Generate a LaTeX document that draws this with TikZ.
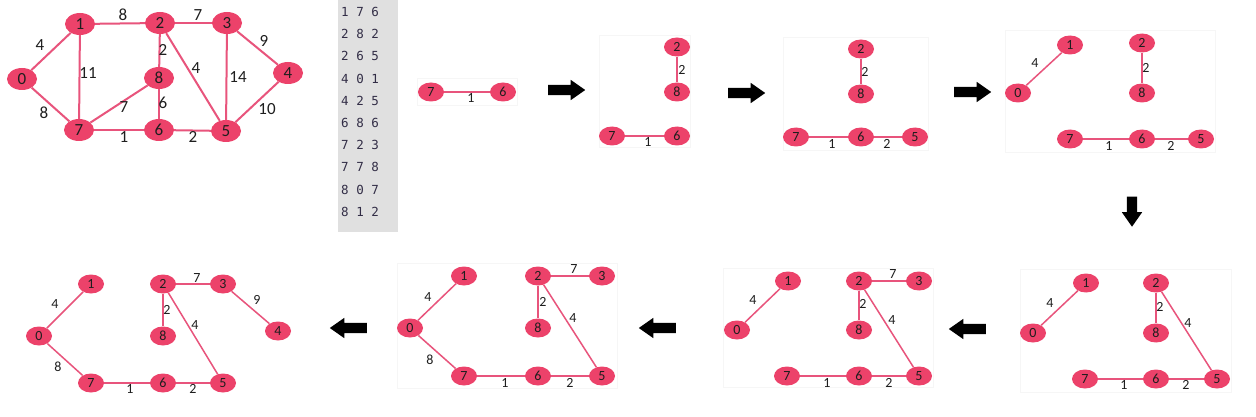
\documentclass[tikz,border=0pt]{standalone}
\usepackage{fontspec}
\usetikzlibrary{shapes.geometric,shapes.arrows}
\newfontfamily\cf{Carlito}
\newfontfamily\mf{DejaVu Sans Mono}
\definecolor{vcol}{RGB}{236,66,106}
\definecolor{ecol}{RGB}{232,84,124}
\definecolor{txt}{RGB}{30,30,30}
\definecolor{greybox}{RGB}{224,224,224}
\definecolor{monotxt}{RGB}{50,45,70}
\tikzset{
  vtx/.style={ellipse,fill=vcol,minimum width=26pt,minimum height=19pt,inner sep=0pt,text=txt,font=\cf\fontsize{14}{16}\selectfont},
  bigvtx/.style={vtx,minimum width=30pt,minimum height=22pt,font=\cf\fontsize{17}{19}\selectfont},
  edge/.style={draw=ecol,line width=1.5pt},
  bigedge/.style={draw=ecol,line width=2pt},
  lbl/.style={inner sep=0pt,text=txt,font=\cf\fontsize{14}{16}\selectfont},
  biglbl/.style={lbl,font=\cf\fontsize{17}{19}\selectfont},
  panel/.style={draw=gray!7,fill=white,line width=0.6pt},
  blockarrow/.style={single arrow,fill=black,draw=none,inner sep=5pt,minimum height=37pt,single arrow head extend=5pt,single arrow tip angle=70},
  monorow/.style={anchor=west,inner sep=0pt,text=monotxt,font=\mf\fontsize{12.5}{14}\selectfont}
}
\begin{document}
\begin{tikzpicture}[x=1pt,y=-1pt]
\useasboundingbox (0,0) rectangle (1256,417);
\fill[white] (0,0) rectangle (1256,417);

% ---------- main graph ----------
\node[bigvtx] (m0) at (22,79) {0};
\node[bigvtx] (m1) at (80,24) {1};
\node[bigvtx] (m2) at (160,23) {2};
\node[bigvtx] (m3) at (227,23) {3};
\node[bigvtx] (m4) at (288,73) {4};
\node[bigvtx] (m5) at (226,131) {5};
\node[bigvtx] (m6) at (159,130) {6};
\node[bigvtx] (m7) at (79,130) {7};
\node[bigvtx] (m8) at (159,78) {8};
\draw[bigedge] (m0)--(m1);
\draw[bigedge] (m1)--(m2);
\draw[bigedge] (m2)--(m3);
\draw[bigedge] (m3)--(m4);
\draw[bigedge] (m1)--(m7);
\draw[bigedge] (m2)--(m8);
\draw[bigedge] (m2)--(m5);
\draw[bigedge] (m3)--(m5);
\draw[bigedge] (m8)--(m7);
\draw[bigedge] (m8)--(m6);
\draw[bigedge] (m0)--(m7);
\draw[bigedge] (m7)--(m6);
\draw[bigedge] (m6)--(m5);
\draw[bigedge] (m4)--(m5);
\node[biglbl] (ml01) at (40,45) {4};
\node[biglbl] (ml12) at (123,15) {8};
\node[biglbl] (ml23) at (198,15) {7};
\node[biglbl] (ml34) at (264,41) {9};
\node[biglbl] (ml17) at (88,73) {11};
\node[biglbl] (ml28) at (163,50) {2};
\node[biglbl] (ml25) at (196,68) {4};
\node[biglbl] (ml35) at (238,77) {14};
\node[biglbl] (ml87) at (124,107) {7};
\node[biglbl] (ml86) at (163,103) {6};
\node[biglbl] (ml07) at (44,113) {8};
\node[biglbl] (ml76) at (124,137) {1};
\node[biglbl] (ml65) at (193,137) {2};
\node[biglbl] (ml45) at (267,109) {10};

% ---------- grey list ----------
\fill[greybox] (338,0) rectangle (398,232);
\node[monorow] (r0) at (341,12.0) {1 7 6};
\node[monorow] (r1) at (341,34.2) {2 8 2};
\node[monorow] (r2) at (341,56.4) {2 6 5};
\node[monorow] (r3) at (341,78.6) {4 0 1};
\node[monorow] (r4) at (341,100.8) {4 2 5};
\node[monorow] (r5) at (341,123.0) {6 8 6};
\node[monorow] (r6) at (341,145.2) {7 2 3};
\node[monorow] (r7) at (341,167.4) {7 7 8};
\node[monorow] (r8) at (341,189.6) {8 0 7};
\node[monorow] (r9) at (341,211.8) {8 1 2};

% ---------- panel frames ----------
\draw[panel] (417,78) rectangle (517,105);
\draw[panel] (599,35) rectangle (690,147);
\draw[panel] (783,37) rectangle (928,150);
\draw[panel] (1005,30) rectangle (1215,152);
\draw[panel] (1020,269) rectangle (1231,392);
\draw[panel] (723,268) rectangle (933,387);
\draw[panel] (397,263) rectangle (617,388);

% ---------- arrows ----------
\node[blockarrow] (a1) at (563,90) {};
\node[blockarrow] (a2) at (743,93) {};
\node[blockarrow] (a3) at (969,92) {};
\node[blockarrow,shape border rotate=270,minimum height=30pt] (a4) at (1132,208) {};
\node[blockarrow,shape border rotate=180] (a5) at (971,329) {};
\node[blockarrow,shape border rotate=180] (a6) at (661,328) {};
\node[blockarrow,shape border rotate=180] (a7) at (352,328) {};

% ---------- panel b ----------
\node[vtx] (b7) at (431,92) {7};
\node[vtx] (b6) at (503,92) {6};
\draw[edge] (b7)--(b6);
\node[lbl] (bl76) at (471,98) {1};

% ---------- panel c ----------
\node[vtx] (c2) at (677,47) {2};
\node[vtx] (c8) at (677,92) {8};
\node[vtx] (c7) at (612,136) {7};
\node[vtx] (c6) at (677,136) {6};
\draw[edge] (c2)--(c8);
\draw[edge] (c7)--(c6);
\node[lbl] (cl28) at (682,70) {2};
\node[lbl] (cl76) at (648,142) {1};

% ---------- panel d ----------
\node[vtx] (d2) at (861,49) {2};
\node[vtx] (d8) at (861,94) {8};
\node[vtx] (d7) at (796,137) {7};
\node[vtx] (d6) at (861,137) {6};
\node[vtx] (d5) at (915,137) {5};
\draw[edge] (d2)--(d8);
\draw[edge] (d7)--(d6);
\draw[edge] (d6)--(d5);
\node[lbl] (dl28) at (865,72) {2};
\node[lbl] (dl76) at (832,144) {1};
\node[lbl] (dl65) at (887,144) {2};

% ---------- panel e ----------
\node[vtx] (e1) at (1070,45) {1};
\node[vtx] (e0) at (1018,93) {0};
\node[vtx] (e2) at (1142,43) {2};
\node[vtx] (e8) at (1142,93) {8};
\node[vtx] (e7) at (1070,139) {7};
\node[vtx] (e6) at (1142,139) {6};
\node[vtx] (e5) at (1201,139) {5};
\draw[edge] (e0)--(e1);
\draw[edge] (e2)--(e8);
\draw[edge] (e7)--(e6);
\draw[edge] (e6)--(e5);
\node[lbl] (el01) at (1035,63) {4};
\node[lbl] (el28) at (1146,68) {2};
\node[lbl] (el76) at (1109,146) {1};
\node[lbl] (el65) at (1171,146) {2};

% ---------- panel f ----------
\node[vtx] (f1) at (1086,283) {1};
\node[vtx] (f0) at (1033,333) {0};
\node[vtx] (f2) at (1156,283) {2};
\node[vtx] (f8) at (1156,333) {8};
\node[vtx] (f7) at (1085,379) {7};
\node[vtx] (f6) at (1156,379) {6};
\node[vtx] (f5) at (1217,379) {5};
\draw[edge] (f0)--(f1);
\draw[edge] (f2)--(f8);
\draw[edge] (f2)--(f5);
\draw[edge] (f7)--(f6);
\draw[edge] (f6)--(f5);
\node[lbl] (fl01) at (1050,303) {4};
\node[lbl] (fl28) at (1160,307) {2};
\node[lbl] (fl25) at (1188,323) {4};
\node[lbl] (fl76) at (1124,385) {1};
\node[lbl] (fl65) at (1186,385) {2};

% ---------- panel g ----------
\node[vtx] (g1) at (788,281) {1};
\node[vtx] (g0) at (737,330) {0};
\node[vtx] (g2) at (859,281) {2};
\node[vtx] (g3) at (919,281) {3};
\node[vtx] (g8) at (859,330) {8};
\node[vtx] (g7) at (787,376) {7};
\node[vtx] (g6) at (859,376) {6};
\node[vtx] (g5) at (919,376) {5};
\draw[edge] (g0)--(g1);
\draw[edge] (g2)--(g3);
\draw[edge] (g2)--(g8);
\draw[edge] (g2)--(g5);
\draw[edge] (g7)--(g6);
\draw[edge] (g6)--(g5);
\node[lbl] (gl01) at (753,300) {4};
\node[lbl] (gl23) at (893,274) {7};
\node[lbl] (gl28) at (863,304) {2};
\node[lbl] (gl25) at (892,320) {4};
\node[lbl] (gl76) at (827,383) {1};
\node[lbl] (gl65) at (889,383) {2};

% ---------- panel h ----------
\node[vtx] (h1) at (464,276) {1};
\node[vtx] (h0) at (410,328) {0};
\node[vtx] (h2) at (538,276) {2};
\node[vtx] (h3) at (602,276) {3};
\node[vtx] (h8) at (538,328) {8};
\node[vtx] (h7) at (464,376) {7};
\node[vtx] (h6) at (538,376) {6};
\node[vtx] (h5) at (602,376) {5};
\draw[edge] (h0)--(h1);
\draw[edge] (h0)--(h7);
\draw[edge] (h2)--(h3);
\draw[edge] (h2)--(h8);
\draw[edge] (h2)--(h5);
\draw[edge] (h7)--(h6);
\draw[edge] (h6)--(h5);
\node[lbl] (hl01) at (428,297) {4};
\node[lbl] (hl23) at (574,269) {7};
\node[lbl] (hl28) at (543,302) {2};
\node[lbl] (hl25) at (573,318) {4};
\node[lbl] (hl07) at (430,360) {8};
\node[lbl] (hl76) at (505,383) {1};
\node[lbl] (hl65) at (570,383) {2};

% ---------- panel i ----------
\node[vtx] (i1) at (91,284) {1};
\node[vtx] (i0) at (39,336) {0};
\node[vtx] (i2) at (163,284) {2};
\node[vtx] (i3) at (223,284) {3};
\node[vtx] (i8) at (163,336) {8};
\node[vtx] (i4) at (278,331) {4};
\node[vtx] (i7) at (91,383) {7};
\node[vtx] (i6) at (163,383) {6};
\node[vtx] (i5) at (223,383) {5};
\draw[edge] (i0)--(i1);
\draw[edge] (i0)--(i7);
\draw[edge] (i2)--(i3);
\draw[edge] (i2)--(i8);
\draw[edge] (i2)--(i5);
\draw[edge] (i3)--(i4);
\draw[edge] (i7)--(i6);
\draw[edge] (i6)--(i5);
\node[lbl] (il01) at (55,304) {4};
\node[lbl] (il23) at (197,278) {7};
\node[lbl] (il28) at (167,310) {2};
\node[lbl] (il25) at (195,325) {4};
\node[lbl] (il34) at (257,300) {9};
\node[lbl] (il07) at (58,367) {8};
\node[lbl] (il76) at (130,389) {1};
\node[lbl] (il65) at (193,389) {2};
\end{tikzpicture}
\end{document}
